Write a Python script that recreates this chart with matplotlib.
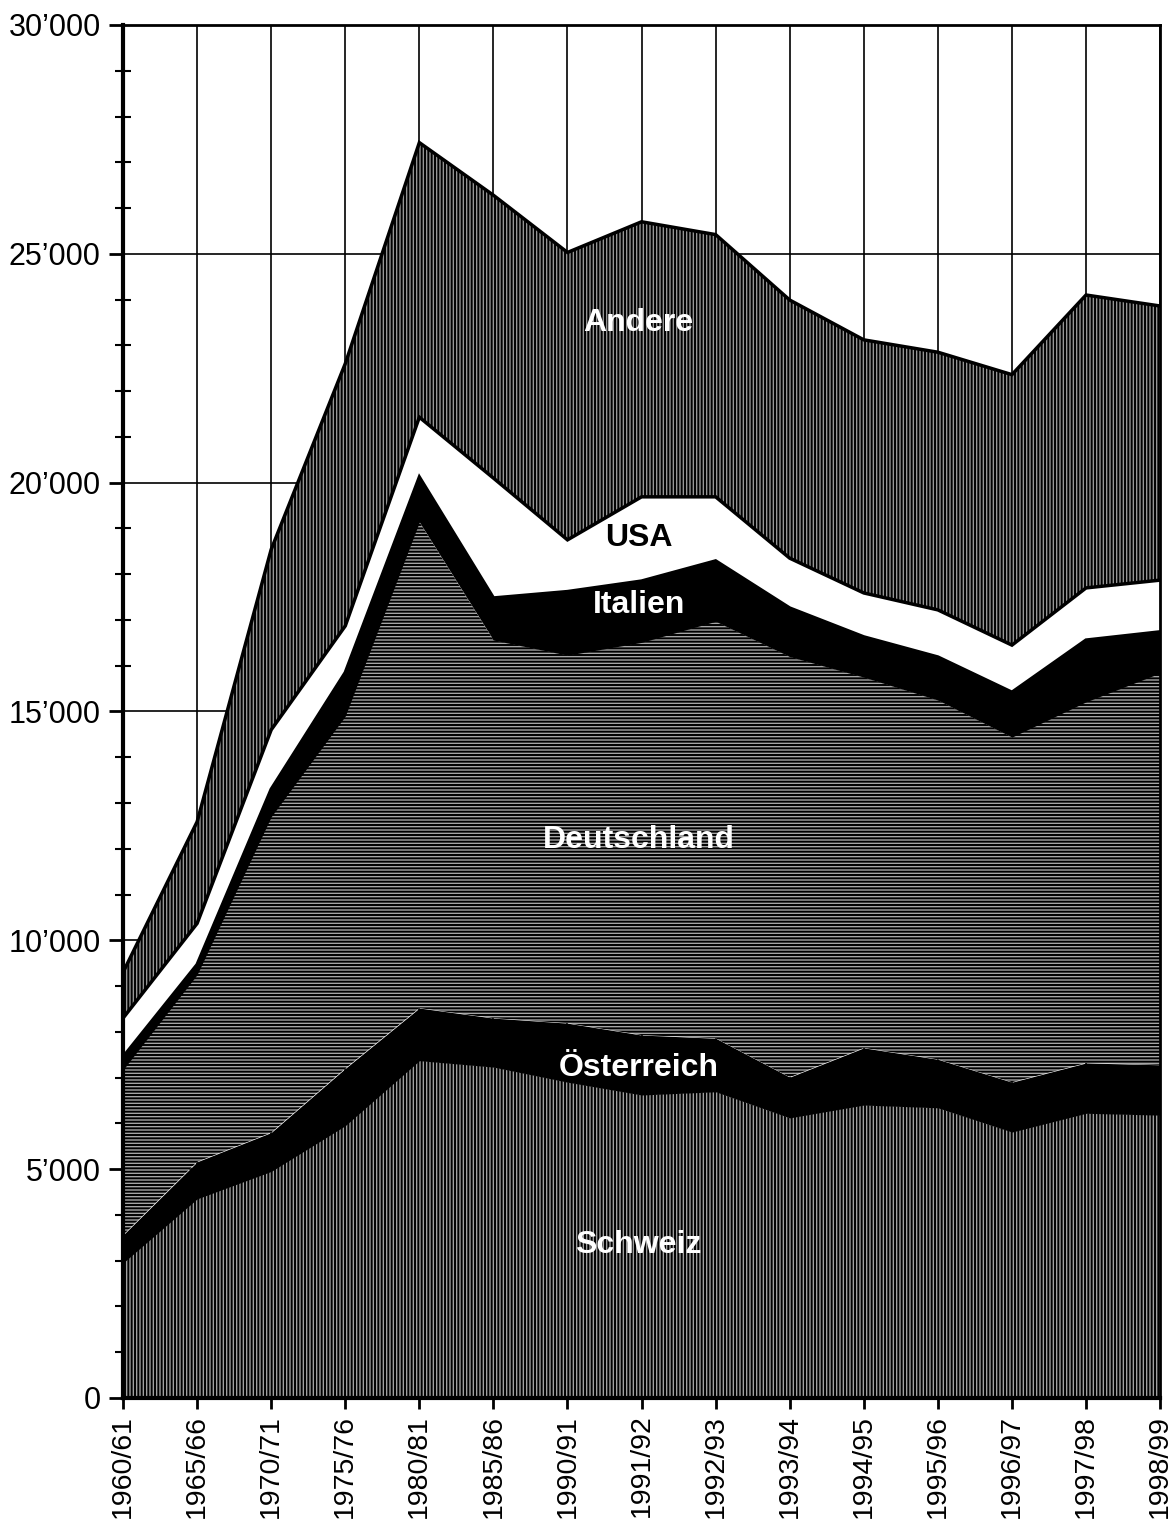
import numpy as np
import matplotlib
matplotlib.use("Agg")
import matplotlib.pyplot as plt
from matplotlib.ticker import MultipleLocator, FuncFormatter

plt.rcParams['font.family'] = ['Liberation Sans', 'DejaVu Sans']
plt.rcParams['hatch.color'] = 'black'
plt.rcParams['hatch.linewidth'] = 1.4

years = ["1960/61", "1965/66", "1970/71", "1975/76", "1980/81", "1985/86",
         "1990/91", "1991/92", "1992/93", "1993/94", "1994/95", "1995/96",
         "1996/97", "1997/98", "1998/99"]

# values per group, stacked from the bottom up
schweiz = [2950, 4350, 4950, 5950, 7370, 7230, 6900, 6620, 6690, 6120, 6400, 6340, 5810, 6220, 6180]
oesterreich = [610, 810, 850, 1250, 1150, 1070, 1290, 1310, 1170, 890, 1250, 1060, 1090, 1100, 1100]
deutschland = [3610, 4090, 6900, 7700, 10620, 8260, 8040, 8580, 9110, 9190, 8100, 7850, 7540, 7890, 8560]
italien = [280, 220, 600, 950, 980, 920, 1390, 1340, 1320, 1060, 880, 940, 980, 1350, 900]
usa = [850, 900, 1300, 1020, 1310, 2620, 1130, 1840, 1400, 1090, 960, 1030, 1030, 1140, 1130]
andere = [1000, 2220, 3940, 5730, 6000, 6180, 6280, 6010, 5730, 5640, 5530, 5630, 5910, 6400, 5990]

names = ["Schweiz", "Österreich", "Deutschland", "Italien", "USA", "Andere"]
layers = [schweiz, oesterreich, deutschland, italien, usa, andere]

# (facecolor, hatch, label colour); each hatch char gives 6 lines per inch-cell
looks = [("#a0a0a0", "|" * 5, "white"),
         ("black", None, "white"),
         ("#a6a6a6", "-" * 5, "white"),
         ("black", None, "white"),
         ("white", None, "black"),
         ("#969696", "|" * 5, "white")]

fig = plt.figure(figsize=(11.73, 15.24), dpi=100)
ax = fig.add_axes([0.1049, 0.0827, 0.8841, 0.9009])

x = np.arange(len(years))
bottom = np.zeros(len(x))
tops = []
for vals, (fc, hatch, _) in zip(layers, looks):
    top = bottom + np.array(vals)
    ax.fill_between(x, bottom, top, facecolor=fc, hatch=hatch,
                    edgecolor="black", linewidth=0, zorder=2)
    tops.append(top)
    bottom = top

# outlines of the white band and the top layer
for top in tops[3:]:
    ax.plot(x, top, color="black", lw=2.5, zorder=3, solid_joinstyle="miter")

# labels inside the bands
label_pos = {"Andere": 23490, "USA": 18790, "Italien": 17330,
             "Deutschland": 12190, "Österreich": 7210, "Schweiz": 3340}
for name, (_, _, tc) in zip(names, looks):
    ax.text(6.96, label_pos[name], name, color=tc, fontsize=23,
            fontweight="bold", ha="center", va="center", zorder=4)

ax.set_xlim(0, len(years) - 1)
ax.set_ylim(0, 30000)

ax.set_xticks(x)
ax.set_xticklabels(years, rotation=90, fontsize=20.5)
ax.yaxis.set_major_locator(MultipleLocator(5000))
ax.yaxis.set_minor_locator(MultipleLocator(1000))
ax.yaxis.set_major_formatter(FuncFormatter(lambda v, p: f"{int(v):,}".replace(",", "\u2019")))
ax.tick_params(axis="y", which="major", direction="out", length=10, width=2, labelsize=22, pad=6)
ax.tick_params(axis="y", which="minor", direction="inout", length=12, width=1.5)
ax.tick_params(axis="x", which="major", direction="out", length=8, width=2, pad=4)

ax.grid(True, which="major", color="black", lw=1.2, zorder=0)
ax.set_axisbelow(True)

for side in ["left", "bottom"]:
    ax.spines[side].set_linewidth(3)
for side in ["top", "right"]:
    ax.spines[side].set_linewidth(2)

fig.savefig("out.png", dpi=100)
